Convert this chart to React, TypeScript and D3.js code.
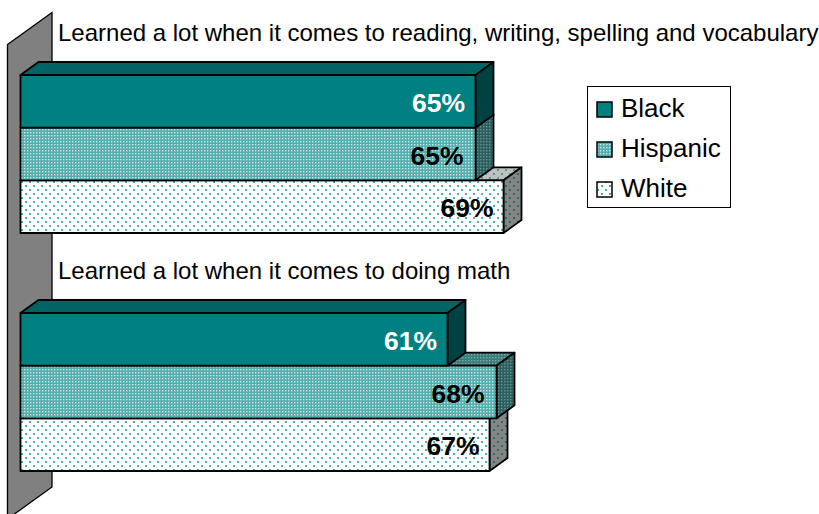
import React from "react";
import * as d3 from "d3";

const groups = [
  "Learned a lot when it comes to reading, writing, spelling and vocabulary",
  "Learned a lot when it comes to doing math",
];
const seriesNames = ["Black", "Hispanic", "White"];
const blackValues = [65, 61];
const hispanicValues = [65, 68];
const whiteValues = [69, 67];
const seriesValues = [blackValues, hispanicValues, whiteValues];

const W = 819;
const H = 514;
const depthX = 18;
const depthY = -13;
const fontFamily = "'Liberation Sans', Arial, sans-serif";

const x = d3.scaleLinear().domain([0, 100]).range([20.5, 720.5]);
const groupY = d3.scaleBand().domain(groups).range([75, 471]).paddingInner(80 / 238).paddingOuter(0);
const barY = d3.scaleBand().domain(seriesNames).range([0, groupY.bandwidth()]);

type FaceStyle = { front: string; top: string; side: string; label: string; labelGap: number };
const faces: Record<string, FaceStyle> = {
  Black: { front: "#008080", top: "#006464", side: "#004242", label: "#ffffff", labelGap: 10.5 },
  Hispanic: { front: "url(#hisp-front)", top: "url(#hisp-top)", side: "url(#hisp-side)", label: "#000000", labelGap: 12 },
  White: { front: "url(#white-front)", top: "url(#white-top)", side: "url(#white-side)", label: "#000000", labelGap: 10 },
};

const poly = (pts: [number, number][]) => d3.line()(pts) + "Z";

// Fine checker fill used for the middle series
function Checker({ id, bg, ink }: { id: string; bg: string; ink: string }) {
  return (
    <pattern id={id} width={3} height={3} patternUnits="userSpaceOnUse">
      <rect width={3} height={3} fill={bg} />
      <rect x={0} y={0} width={1.4} height={1.4} fill={ink} />
    </pattern>
  );
}

// Sparse staggered dots used for the last series
function Dots({ id, bg, ink }: { id: string; bg: string; ink: string }) {
  return (
    <pattern id={id} width={8} height={8} patternUnits="userSpaceOnUse">
      <rect width={8} height={8} fill={bg} />
      <rect x={1} y={1} width={2} height={2} fill={ink} />
      <rect x={5} y={5} width={2} height={2} fill={ink} />
    </pattern>
  );
}

function Bar({ group, name, value }: { group: string; name: string; value: number }) {
  const x0 = x(0);
  const x1 = x(value);
  const y0 = (groupY(group) ?? 0) + (barY(name) ?? 0);
  const y1 = y0 + barY.bandwidth();
  const f = faces[name];
  const stroke = { stroke: "#000", strokeWidth: 1.8, strokeLinejoin: "round" as const };
  return (
    <g>
      <path
        d={poly([[x0, y0], [x0 + depthX, y0 + depthY], [x1 + depthX, y0 + depthY], [x1, y0]])}
        fill={f.top}
        {...stroke}
      />
      <path
        d={poly([[x1, y0], [x1 + depthX, y0 + depthY], [x1 + depthX, y1 + depthY], [x1, y1]])}
        fill={f.side}
        {...stroke}
      />
      <rect x={x0} y={y0} width={x1 - x0} height={y1 - y0} fill={f.front} {...stroke} />
      <text
        x={x1 - f.labelGap}
        y={y0 + 37}
        textAnchor="end"
        fontFamily={fontFamily}
        fontWeight="bold"
        fontSize={26.5}
        fill={f.label}
      >
        {value}%
      </text>
    </g>
  );
}

export default function App() {
  const legendItems = seriesNames.map((name, i) => ({ name, y: 102 + i * 40 }));
  return (
    <svg
      width={W}
      height={H}
      viewBox={`0 0 ${W} ${H}`}
      style={{ position: "absolute", left: 0, top: 0, display: "block", background: "#fff" }}
    >
      <defs>
        <Checker id="hisp-front" bg="#55aeae" ink="#cce8e8" />
        <Checker id="hisp-top" bg="#387c7c" ink="#7fa8a8" />
        <Checker id="hisp-side" bg="#2a5f5f" ink="#6f9090" />
        <Dots id="white-front" bg="#ffffff" ink="#55adad" />
        <Dots id="white-top" bg="#c0c0c0" ink="#4f9a9a" />
        <Dots id="white-side" bg="#858585" ink="#2a6a6a" />
      </defs>

      {/* Back wall of the 3D plot */}
      <path
        d={poly([[7.5, 44.5], [52, 12.5], [52, 487], [7.5, 519]])}
        fill="#808080"
        stroke="#000"
        strokeWidth={1.3}
      />

      {/* Bars in each group paint bottom-up so upper bars overlap lower ones */}
      {groups.map((group, gi) => (
        <g key={group}>
          {[...seriesNames].reverse().map((name) => (
            <Bar key={name} group={group} name={name} value={seriesValues[seriesNames.indexOf(name)][gi]} />
          ))}
          <text
            x={58}
            y={(groupY(group) ?? 0) - 34}
            fontFamily={fontFamily}
            fontSize={24}
            fill="#000"
          >
            {group}
          </text>
        </g>
      ))}

      {/* Legend */}
      <rect x={587.5} y={86.5} width={143} height={121} fill="#fff" stroke="#000" strokeWidth={1} />
      {legendItems.map(({ name, y }) => (
        <g key={name}>
          <rect x={597} y={y} width={15} height={15} fill={faces[name].front} stroke="#000" strokeWidth={1.5} />
          <text x={621} y={y + 15} fontFamily={fontFamily} fontSize={26} fill="#000">
            {name}
          </text>
        </g>
      ))}
    </svg>
  );
}
